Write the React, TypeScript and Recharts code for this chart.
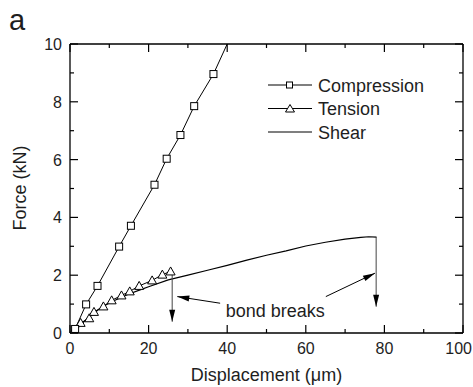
import React from 'react';
import { ComposedChart, Line, XAxis, YAxis, ReferenceDot } from 'recharts';

const font = '"Liberation Sans", Arial, sans-serif';
const ink = '#1e1e1e';

// values
const compressionX = [1.3, 4.1, 7.0, 12.5, 15.5, 21.5, 24.6, 28.1, 31.6, 36.5, 40.0];
const compressionY = [0.14, 0.99, 1.63, 2.99, 3.71, 5.13, 6.03, 6.85, 7.85, 8.96, 10.0];

const tensionX = [1.0, 2.7, 4.9, 6.1, 8.5, 10.6, 13.1, 15.2, 17.6, 20.9, 23.5, 25.6];
const tensionY = [0.08, 0.35, 0.51, 0.73, 0.92, 1.13, 1.3, 1.44, 1.63, 1.82, 2.02, 2.13];

const shearX = [1, 2, 3, 4, 6, 8, 10, 12, 15, 18, 20, 25, 30, 35, 40, 45, 50, 55, 60, 65, 70, 74, 76, 78];
const shearY = [0, 0.18, 0.32, 0.45, 0.68, 0.88, 1.04, 1.17, 1.35, 1.5, 1.6, 1.84, 2.0, 2.17, 2.34, 2.52, 2.69, 2.84, 3.01, 3.14, 3.25, 3.31, 3.33, 3.32];

// arrows: [fromX, fromY, toX, toY]
const arrows = [
  [26.0, 2.05, 26.0, 0.39],
  [77.9, 3.32, 77.9, 0.91],
  [38.2, 1.03, 27.3, 1.26],
  [65.1, 1.26, 77.6, 2.07],
];
const annotation = { x: 39.6, y: 0.78, text: 'bond breaks' };

const xTicks = [0, 10, 20, 30, 40, 50, 60, 70, 80, 90, 100];
const yTicks = [0, 1, 2, 3, 4, 5, 6, 7, 8, 9, 10];

const toRows = (xs: number[], ys: number[]) => xs.map((x, i) => ({ x, y: ys[i] }));
const compression = compressionX.map((x, i) => ({ x, y: compressionY[i], mark: i < compressionX.length - 1 }));
const tension = toRows(tensionX, tensionY);
const shear = toRows(shearX, shearY);

const Square = (p: any) => {
  if (!p.payload || !p.payload.mark) return <g key={p.key} />;
  return <rect key={p.key} x={p.cx - 3.5} y={p.cy - 3.5} width={7} height={7} fill="#fff" stroke="#000" strokeWidth={1} />;
};

const Triangle = (p: any) => (
  <path key={p.key} d={`M${p.cx},${p.cy - 4.5} L${p.cx + 4.5},${p.cy + 3.5} L${p.cx - 4.5},${p.cy + 3.5} Z`} fill="#fff" stroke="#000" strokeWidth={1} />
);

const ArrowHead = (p: any) => {
  const pts = p.points || [];
  if (p.index !== 1 || pts.length < 2) return <g key={p.key} />;
  const a = pts[0];
  const b = pts[1];
  const ang = (Math.atan2(b.y - a.y, b.x - a.x) * 180) / Math.PI;
  return (
    <path key={p.key} d="M0,0 L-12,-3 L-12,3 Z" fill="#000" transform={`translate(${p.cx},${p.cy}) rotate(${ang})`} />
  );
};

const BottomTick = (p: any) => {
  const major = p.payload.value % 20 === 0;
  const last = p.payload.value === 100;
  return (
    <g>
      <line x1={p.x} x2={p.x} y1={p.y} y2={p.y - (major ? 8 : 4)} stroke="#000" strokeWidth={1.2} />
      {major && (
        <text x={last ? 472 : p.x} y={p.y + 21} textAnchor={last ? 'end' : 'middle'} fontSize={16} fontFamily={font} fill={ink}>
          {p.payload.value}
        </text>
      )}
    </g>
  );
};

const TopTick = (p: any) => {
  const major = p.payload.value % 20 === 0;
  return <line x1={p.x} x2={p.x} y1={p.y} y2={p.y + (major ? 8 : 4)} stroke="#000" strokeWidth={1.2} />;
};

const LeftTick = (p: any) => {
  const major = p.payload.value % 2 === 0;
  return (
    <g>
      <line x1={p.x} x2={p.x + (major ? 8 : 4)} y1={p.y} y2={p.y} stroke="#000" strokeWidth={1.2} />
      {major && (
        <text x={p.x - 8} y={p.y + 6} textAnchor="end" fontSize={16} fontFamily={font} fill={ink}>
          {p.payload.value}
        </text>
      )}
    </g>
  );
};

const RightTick = (p: any) => {
  const major = p.payload.value % 2 === 0;
  return <line x1={p.x} x2={p.x - (major ? 8 : 4)} y1={p.y} y2={p.y} stroke="#000" strokeWidth={1.2} />;
};

const legendRows = [
  { name: 'Compression', marker: 'square' },
  { name: 'Tension', marker: 'triangle' },
  { name: 'Shear', marker: 'none' },
];

function LegendBox() {
  return (
    <svg width={200} height={80} style={{ position: 'absolute', left: 260, top: 70 }}>
      {legendRows.map((r, i) => {
        const cy = 15 + i * 23.5;
        return (
          <g key={r.name}>
            <line x1={8} x2={52} y1={cy} y2={cy} stroke="#000" strokeWidth={1.2} />
            {r.marker === 'square' && <rect x={26.5} y={cy - 3} width={6} height={6} fill="#fff" stroke="#000" />}
            {r.marker === 'triangle' && (
              <path d={`M30,${cy - 4} L34.5,${cy + 3.5} L25.5,${cy + 3.5} Z`} fill="#fff" stroke="#000" />
            )}
            <text x={58} y={cy + 6.5} fontSize={18} fontFamily={font} fill={ink}>
              {r.name}
            </text>
          </g>
        );
      })}
    </svg>
  );
}

const axisLine = { stroke: '#000', strokeWidth: 1.3 };

export default function App() {
  return (
    <div style={{ position: 'absolute', left: 0, top: 0, width: 473, height: 387, background: '#fff' }}>
      <ComposedChart width={473} height={387} margin={{ top: 43, right: 9, bottom: 53, left: 69 }}>
        <XAxis dataKey="x" type="number" domain={[0, 100]} ticks={xTicks} interval={0} allowDataOverflow
          height={1} tickSize={0} tickMargin={0} tickLine={false} tick={<BottomTick />} axisLine={axisLine} />
        <XAxis xAxisId="top" orientation="top" dataKey="x" type="number" domain={[0, 100]} ticks={xTicks} interval={0}
          allowDataOverflow height={1} tickSize={0} tickMargin={0} tickLine={false} tick={<TopTick />} axisLine={axisLine} />
        <YAxis type="number" domain={[0, 10]} ticks={yTicks} interval={0} allowDataOverflow width={1}
          tickSize={0} tickMargin={0} tickLine={false} tick={<LeftTick />} axisLine={axisLine} />
        <YAxis yAxisId="right" orientation="right" type="number" domain={[0, 10]} ticks={yTicks} interval={0}
          allowDataOverflow width={1} tickSize={0} tickMargin={0} tickLine={false} tick={<RightTick />} axisLine={axisLine} />

        <Line data={shear} dataKey="y" type="linear" stroke="#000" strokeWidth={1.2} dot={false} isAnimationActive={false} />
        <Line data={tension} dataKey="y" type="linear" stroke="#000" strokeWidth={1} dot={Triangle} isAnimationActive={false} />
        <Line data={compression} dataKey="y" type="linear" stroke="#000" strokeWidth={1} dot={Square} isAnimationActive={false} />
        {arrows.map((a, i) => (
          <Line key={i} data={[{ x: a[0], y: a[1] }, { x: a[2], y: a[3] }]} dataKey="y" type="linear"
            stroke={i < 2 ? '#444' : '#000'} strokeWidth={1} dot={ArrowHead} isAnimationActive={false} />
        ))}
        <ReferenceDot x={annotation.x} y={annotation.y} r={0} stroke="none" fill="none"
          label={{ value: annotation.text, position: 'right', offset: 0, fontSize: 18, fontFamily: font, fill: ink }} />

        <text x={9} y={30} fontSize={29} fontFamily={font} fill={ink}>a</text>
        <text x={266.5} y={381} textAnchor="middle" fontSize={18} fontFamily={font} fill={ink}>
          Displacement (μm)
        </text>
        <text x={26} y={188} textAnchor="middle" fontSize={18} fontFamily={font} fill={ink} transform="rotate(-90 26 188)">
          Force (kN)
        </text>
      </ComposedChart>
      <LegendBox />
    </div>
  );
}
